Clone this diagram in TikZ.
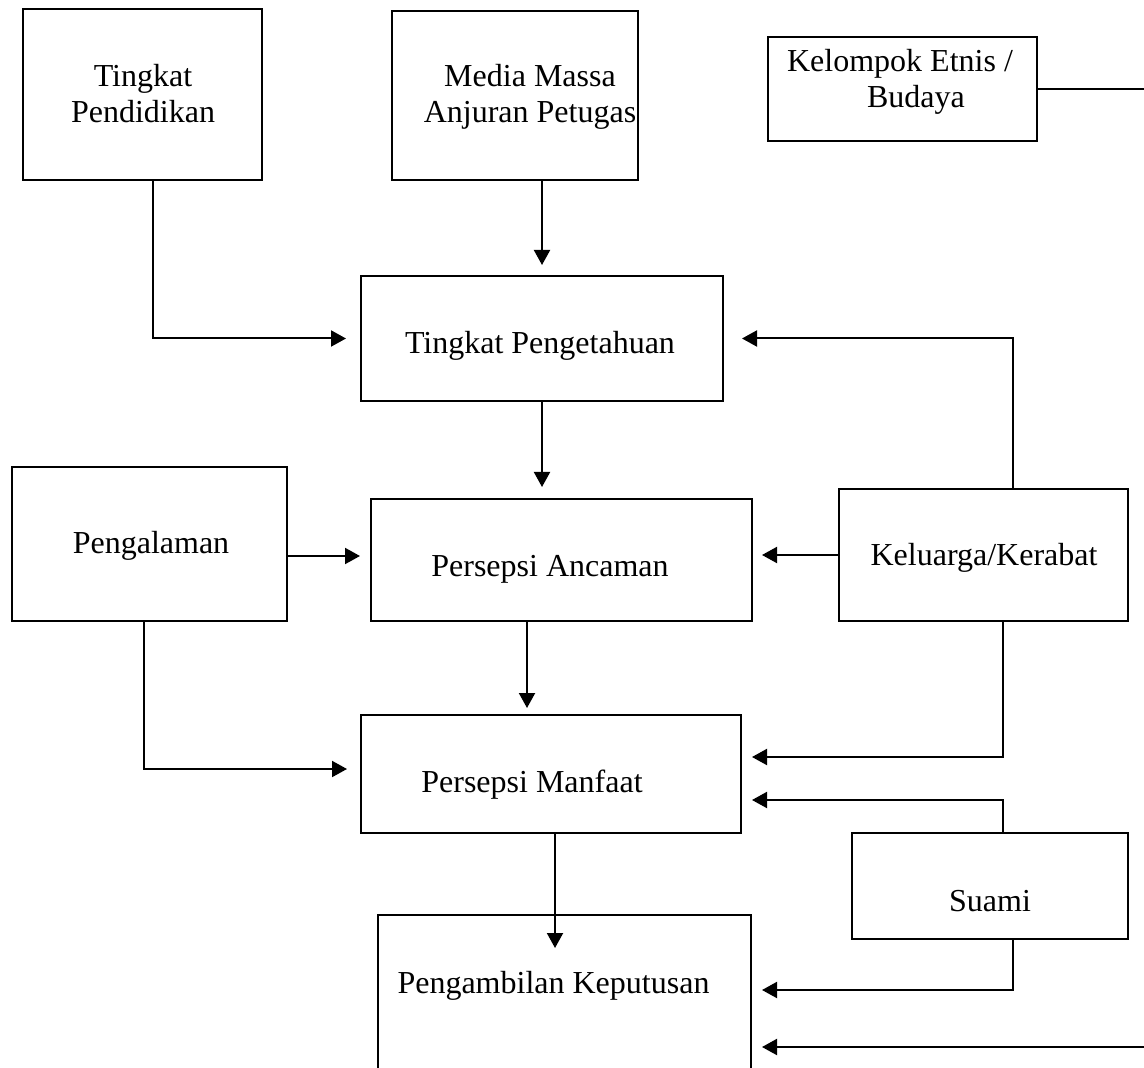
\documentclass[tikz,border=0pt]{standalone}
\usepackage{fontspec}
\setmainfont{Liberation Serif}
\usetikzlibrary{arrows.meta}

\tikzset{
  box/.style={draw, line width=1.1pt, rectangle, inner sep=0pt, outer sep=0pt},
  lbl/.style={anchor=base, inner sep=0pt, font=\fontsize{16}{18}\selectfont},
  link/.style={line width=1pt},
  arr/.style={link, -{Triangle[length=7.5pt,width=8pt]}},
}
\newcommand{\twolines}[2]{\begin{tabular}[t]{@{}c@{}}#1\\#2\end{tabular}}

\begin{document}
\begin{tikzpicture}[x=0.5pt, y=-0.5pt]
\clip (0,0) rectangle (1144,1068);
\fill[white] (0,0) rectangle (1144,1068);

% boxes
\node[box, minimum width=119.5pt, minimum height=85.5pt] (pend)   at (142.5,94.5) {};
\node[box, minimum width=123pt,   minimum height=84.5pt] (media)  at (515,95.5)   {};
\node[box, minimum width=134.5pt, minimum height=52pt]   (etnis)  at (902.5,89)   {};
\node[box, minimum width=181pt,   minimum height=62.5pt] (tahu)   at (542,338.5)  {};
\node[box, minimum width=137.5pt, minimum height=77pt]   (alam)   at (149.5,544)  {};
\node[box, minimum width=190.5pt, minimum height=61pt]   (ancam)  at (561.5,560)  {};
\node[box, minimum width=144.5pt, minimum height=66pt]   (kel)    at (983.5,555)  {};
\node[box, minimum width=190pt,   minimum height=59pt]   (manf)   at (551,774)    {};
\node[box, minimum width=138pt,   minimum height=53pt]   (suami)  at (990,886)    {};
\node[box, minimum width=186.5pt, minimum height=92.5pt] (putus)  at (564.5,1007.5) {};

% labels
\node[lbl] (t-pend)  at (143,87)   {\twolines{Tingkat}{Pendidikan}};
\node[lbl] (t-media) at (530,87)   {\twolines{Media Massa}{Anjuran Petugas}};
\node[lbl] (t-etnis) at (900,72)   {\twolines{Kelompok Etnis /}{\hspace*{1em}Budaya}};
\node[lbl] (t-tahu)  at (540,354)  {Tingkat Pengetahuan};
\node[lbl] (t-alam)  at (151,553)  {Pengalaman};
\node[lbl] (t-ancam) at (550,576)  {Persepsi Ancaman};
\node[lbl] (t-kel)   at (984,566)  {Keluarga/Kerabat};
\node[lbl] (t-manf)  at (532,792)  {Persepsi Manfaat};
\node[lbl] (t-suami) at (990,911)  {Suami};
\node[lbl] (t-putus) at (553.5,993) {Pengambilan Keputusan};

% loose ends at the right margin
\coordinate (edgeA) at (1150,87);
\coordinate (edgeB) at (1150,1047);

% connectors
\draw[arr, shorten >=7.5pt] ([xshift=5.25pt]pend.south) |- (tahu.west);
\draw[arr, shorten >=5.5pt] (media.south -| tahu.north) -- (tahu.north);
\draw[arr, shorten >=6pt]   (tahu.south) -- (tahu.south |- ancam.north);
\draw[arr, shorten >=5.5pt] ([yshift=-6pt]alam.east) -- ([yshift=-6pt]alam.east -| ancam.west);
\draw[arr, shorten >=5pt]   (kel.west) -- (kel.west -| ancam.east);
\draw[arr, shorten >=9.5pt] ([xshift=14.75pt]kel.north) |- (tahu.east);
\draw[arr, shorten >=3.5pt] ([xshift=-17.25pt]ancam.south) -- ([xshift=-17.25pt]ancam.south |- manf.north);
\draw[arr, shorten >=7pt]   ([xshift=-2.75pt]alam.south) |- ([yshift=2.5pt]manf.west);
\draw[arr, shorten >=5.5pt] ([xshift=9.75pt]kel.south) |- ([yshift=8.5pt]manf.east);
\draw[arr, shorten >=5.5pt] ([xshift=6.5pt]suami.north) |- ([yshift=-13pt]manf.east);
\draw[arr, shorten >=-16.5pt] ([xshift=2pt]manf.south) -- ([xshift=2pt]manf.south |- putus.north);
\draw[arr, shorten >=5.5pt] ([xshift=11.5pt]suami.south) |- ([yshift=8.75pt]putus.east);
\draw[arr, shorten >=5.5pt] (edgeB) -- (edgeB -| putus.east);
\draw[link] (etnis.east) -- (etnis.east -| edgeA);
\end{tikzpicture}
\end{document}
